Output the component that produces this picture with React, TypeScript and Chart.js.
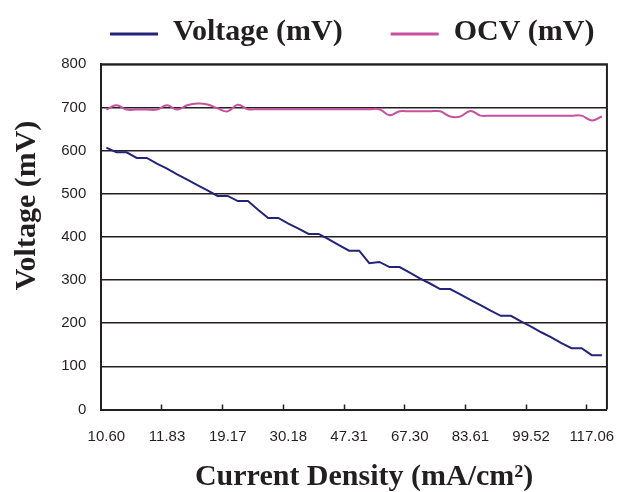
import React, { useEffect, useRef } from 'react';
import { Chart, registerables } from 'chart.js';

Chart.register(...registerables);

// Tick labels shown on the category axis (every 6th category)
const tickLabels = ['10.60', '11.83', '19.17', '30.18', '47.31', '67.30', '83.61', '99.52', '117.06'];
const pointsPerLabel = 6;

// Series values (mV), one per category
const voltage = [
  607, 596, 596, 583, 583, 570, 558, 545, 533, 520,
  508, 495, 495, 483, 483, 463, 444, 444, 431, 419,
  407, 407, 394, 381, 368, 368, 339, 342, 330, 330,
  317, 304, 292, 279, 279, 267, 254, 242, 229, 217,
  217, 204, 192, 179, 167, 154, 142, 142, 126, 126,
];
const ocv = [
  695, 705, 695, 695, 695, 695, 705, 695, 705, 709,
  707, 698, 691, 706, 696, 696, 696, 696, 696, 696,
  696, 696, 696, 696, 696, 696, 696, 696, 682, 691,
  691, 691, 691, 691, 679, 679, 692, 681, 681, 681,
  681, 681, 681, 681, 681, 681, 681, 681, 670, 679,
];

const xTitle = 'Current Density (mA/cm²)';
const yTitle = 'Voltage (mV)';

const categories = voltage.map((_, i) => (i % pointsPerLabel === 0 ? tickLabels[i / pointsPerLabel] : ''));

const INK = '#231f20';
const SERIF = '"Liberation Serif", "Times New Roman", serif';
const SANS = '"Liberation Sans", Arial, sans-serif';

const framePlugin = {
  id: 'frame',
  afterDraw(chart: any) {
    const { ctx, chartArea } = chart;
    const { left, top, right, bottom } = chartArea;
    ctx.save();
    ctx.strokeStyle = INK;
    ctx.lineWidth = 2;
    ctx.beginPath();
    ctx.moveTo(left, top);
    ctx.lineTo(right, top);
    ctx.lineTo(right, bottom);
    ctx.stroke();
    ctx.restore();
  },
};

const titlesPlugin = {
  id: 'axisTitles',
  afterDraw(chart: any) {
    const ctx = chart.ctx;
    const { left, right, bottom } = chart.chartArea;
    ctx.save();
    ctx.font = `bold 30px ${SERIF}`;
    ctx.fillStyle = INK;
    ctx.textAlign = 'center';
    ctx.textBaseline = 'middle';
    ctx.fillText(xTitle, (left + right) / 2 + 10, bottom + 68);
    ctx.translate(27, 205.5);
    ctx.rotate(-Math.PI / 2);
    ctx.fillText(yTitle, 0, 0);
    ctx.restore();
  },
};

const legendPlugin = {
  id: 'topLegend',
  afterDraw(chart: any) {
    const ctx = chart.ctx;
    ctx.save();
    ctx.font = `bold 30px ${SERIF}`;
    ctx.textBaseline = 'middle';
    ctx.textAlign = 'left';
    let x = 110;
    const y = 32;
    chart.data.datasets.forEach((ds: any) => {
      ctx.strokeStyle = ds.borderColor;
      ctx.lineWidth = 3;
      ctx.beginPath();
      ctx.moveTo(x, y + 2);
      ctx.lineTo(x + 48, y + 2);
      ctx.stroke();
      ctx.fillStyle = INK;
      ctx.fillText(ds.label, x + 63, y);
      x += 63 + ctx.measureText(ds.label).width + 48;
    });
    ctx.restore();
  },
};

export default function App() {
  const canvasRef = useRef<HTMLCanvasElement | null>(null);

  useEffect(() => {
    if (!canvasRef.current) return;
    const chart = new Chart(canvasRef.current, {
      type: 'line',
      data: {
        labels: categories,
        datasets: [
          {
            label: 'Voltage (mV)',
            data: voltage,
            borderColor: '#23237a',
            backgroundColor: '#23237a',
            borderWidth: 2,
            pointRadius: 0,
            tension: 0,
          },
          {
            label: 'OCV (mV)',
            data: ocv,
            borderColor: '#c8509f',
            backgroundColor: '#c8509f',
            borderWidth: 2,
            pointRadius: 0,
            tension: 0.4,
          },
        ],
      },
      options: {
        responsive: false,
        animation: false,
        layout: { padding: { left: 0, top: 64.3, right: 11.7, bottom: 0 } },
        plugins: {
          legend: { display: false },
          tooltip: { enabled: false },
        },
        scales: {
          x: {
            type: 'category',
            offset: true,
            grid: {
              offset: true,
              drawOnChartArea: false,
              drawTicks: true,
              tickLength: -5,
              tickWidth: 1.5,
              tickColor: (c: any) =>
                c.index > 0 && c.index < voltage.length && c.index % pointsPerLabel === 0 ? INK : 'rgba(0,0,0,0)',
            },
            border: { color: INK, width: 2 },
            ticks: {
              autoSkip: false,
              maxRotation: 0,
              minRotation: 0,
              padding: 23,
              color: INK,
              font: { family: SANS, size: 15 },
            },
            title: { display: false },
            afterFit: (s: any) => {
              s.height = 82.5;
            },
          },
          y: {
            min: 0,
            max: 800,
            ticks: {
              stepSize: 100,
              padding: 15,
              color: INK,
              font: { family: SANS, size: 15 },
            },
            grid: { color: INK, lineWidth: 1.5, drawTicks: false },
            border: { color: INK, width: 2 },
            title: { display: false },
            afterFit: (s: any) => {
              s.width = 101.3;
            },
          },
        },
      } as any,
      plugins: [framePlugin, titlesPlugin, legendPlugin],
    });
    return () => chart.destroy();
  }, []);

  return (
    <div style={{ position: 'fixed', left: 0, top: 0, width: 625, height: 492, background: '#fff' }}>
      <canvas ref={canvasRef} width={625} height={492} />
    </div>
  );
}
